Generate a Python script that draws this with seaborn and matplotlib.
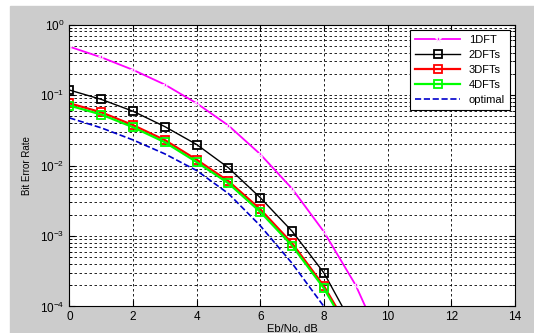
import numpy as np
import pandas as pd
import matplotlib
matplotlib.use('Agg')
import matplotlib.pyplot as plt
import seaborn as sns
from matplotlib.patches import Rectangle
from matplotlib.ticker import LogLocator, NullFormatter

# Eb/No (dB) e BER
snr = [0, 1, 2, 3, 4, 5, 6, 7, 8, 9, 10]
ber_1dft = [0.487, 0.344, 0.228, 0.141, 0.0765, 0.037, 0.0145, 0.0047, 0.00115, 0.0002, 0.00002]
ber_2dft = [0.118, 0.087, 0.059, 0.0357, 0.0199, 0.0093, 0.0035, 0.00117, 0.00030, 0.000045]
ber_3dft = [0.0765, 0.057, 0.0375, 0.023, 0.0121, 0.006, 0.0024, 0.00079, 0.000195, 0.000033]
ber_4dft = [0.071, 0.053, 0.035, 0.0214, 0.0112, 0.0056, 0.0022, 0.00073, 0.000181, 0.00003]
ber_opt = [0.0475, 0.0343, 0.0231, 0.01465, 0.0085, 0.0040, 0.0014, 0.00041, 0.0001, 0.000015]

labels = ['1DFT', '2DFTs', '3DFTs', '4DFTs', 'optimal']
series = [ber_1dft, ber_2dft, ber_3dft, ber_4dft, ber_opt]
colors = ['#ff00ff', 'black', '#ff0000', '#00ff00', '#0000cc']

plt.rcParams['font.family'] = ['Liberation Sans', 'DejaVu Sans']
plt.rcParams['font.size'] = 8
plt.rcParams['mathtext.fontset'] = 'custom'
plt.rcParams['mathtext.rm'] = 'Liberation Sans'

fig = plt.figure(figsize=(5.34, 3.33), dpi=100)
fig.patch.set_facecolor('white')
fig.patches.append(Rectangle((10 / 534, 0), 1 - 10 / 534, 1 - 6 / 333,
                             transform=fig.transFigure, color='#cccccc', zorder=-1))
ax = fig.add_axes([0.130, 0.0796, 0.834, 0.8464])
ax.set_facecolor('white')

for lab, ber, col in zip(labels, series, colors):
    df = pd.DataFrame({'snr': snr[:len(ber)], 'ber': ber})
    if lab == '1DFT':
        sns.lineplot(data=df, x='snr', y='ber', ax=ax, color=col, lw=1.3,
                     marker='*', markersize=4.5, markeredgewidth=0.6, label=lab)
    elif lab == 'optimal':
        sns.lineplot(data=df, x='snr', y='ber', ax=ax, color=col, lw=1.2,
                     linestyle='--', dashes=(3, 2), label=lab)
    else:
        sns.lineplot(data=df, x='snr', y='ber', ax=ax, color=col,
                     lw=1.0 if lab == '2DFTs' else 1.6,
                     marker='s', markersize=5.5, markerfacecolor='none',
                     markeredgecolor=col, markeredgewidth=1.3, label=lab)

ax.set_yscale('log')
ax.set_xlim(0, 14)
ax.set_ylim(1e-4, 1)
ax.set_xticks(np.arange(0, 15, 2))
ax.yaxis.set_major_locator(LogLocator(base=10, numticks=10))
ax.yaxis.set_minor_locator(LogLocator(base=10, subs=np.arange(2, 10), numticks=20))
ax.yaxis.set_minor_formatter(NullFormatter())
ax.tick_params(direction='in', which='both', top=True, right=True, labelsize=8.5)
ax.tick_params(which='major', length=4)
ax.tick_params(which='minor', length=2)

ax.grid(True, which='major', axis='both', color='black', linestyle=(0, (3, 3)), lw=0.6)
ax.grid(True, which='minor', axis='y', color='black', linestyle=(0, (3, 3)), lw=0.6)
for s in ax.spines.values():
    s.set_linewidth(0.8)

ax.set_xlabel('Eb/No, dB', fontsize=8, labelpad=0)
ax.set_ylabel('Bit Error Rate', fontsize=7, labelpad=6)

leg = ax.legend(loc='upper right', fontsize=8, frameon=True, fancybox=False,
                framealpha=1, edgecolor='black', borderaxespad=0.45,
                handlelength=4, labelspacing=0.45, borderpad=0.45, handletextpad=0.8)
leg.get_frame().set_linewidth(0.8)

fig.savefig('out.png', dpi=100)
